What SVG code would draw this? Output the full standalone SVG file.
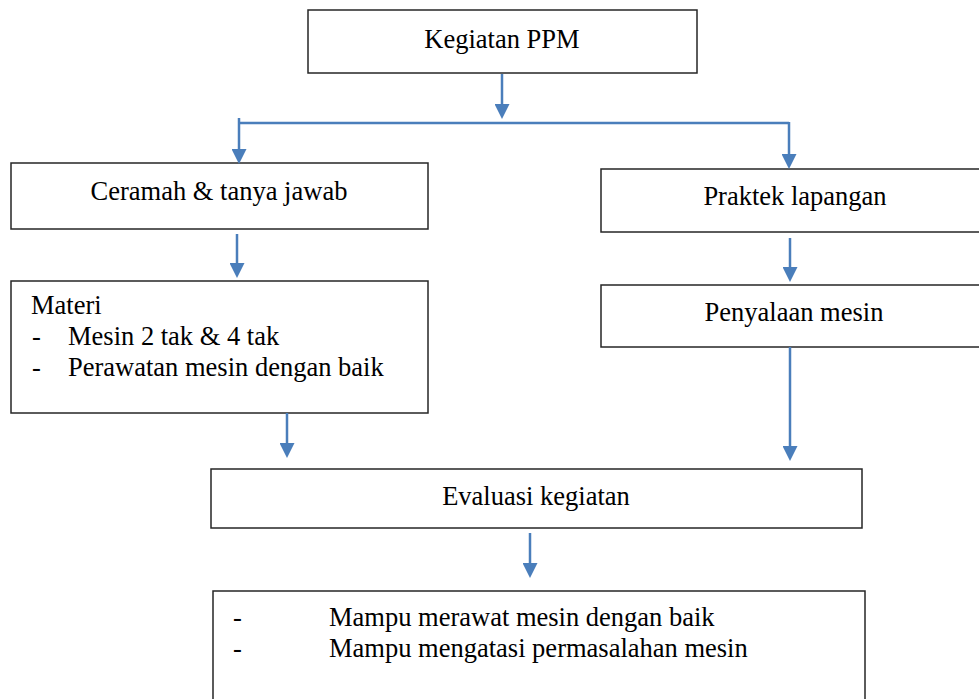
<svg xmlns="http://www.w3.org/2000/svg" width="979" height="699" viewBox="0 0 979 699">
<style>
.box{fill:#fff;stroke:#262626;stroke-width:1.5}
.t{font-family:"Liberation Serif","Times New Roman",serif;font-size:26.5px;fill:#000}
.c{text-anchor:middle}
.con{fill:none;stroke:#4A7EBB;stroke-width:2.5}
</style>
<defs>
<marker id="ah" markerUnits="userSpaceOnUse" markerWidth="15" markerHeight="15" refX="4" refY="7.5" orient="auto">
<path d="M0,0 L15,7.5 L0,15 z" fill="#4A7EBB"/>
</marker>
</defs>
<rect width="979" height="699" fill="#fff"/>
<g id="n-kegiatan"><rect class="box" x="308" y="10" width="389" height="63"/><text class="t c" x="502" y="48">Kegiatan PPM</text></g>
<g id="n-ceramah"><rect class="box" x="11" y="163" width="417" height="66"/><text class="t c" x="219" y="200">Ceramah &amp; tanya jawab</text></g>
<g id="n-praktek"><rect class="box" x="601" y="169" width="390" height="63"/><text class="t c" x="795" y="205">Praktek lapangan</text></g>
<g id="n-materi"><rect class="box" x="11" y="281" width="417" height="132"/>
<text class="t" x="31" y="314">Materi</text>
<text class="t" x="32" y="345">-</text><text class="t" x="68" y="345">Mesin 2 tak &amp; 4 tak</text>
<text class="t" x="32" y="376">-</text><text class="t" x="68" y="376">Perawatan mesin dengan baik</text></g>
<g id="n-penyalaan"><rect class="box" x="601" y="285" width="390" height="62"/><text class="t c" x="794" y="321">Penyalaan mesin</text></g>
<g id="n-evaluasi"><rect class="box" x="211" y="469" width="651" height="59"/><text class="t c" x="536" y="505">Evaluasi kegiatan</text></g>
<g id="n-hasil"><rect class="box" x="213" y="591" width="652" height="130"/>
<text class="t" x="233" y="626">-</text><text class="t" x="329" y="626">Mampu merawat mesin dengan baik</text>
<text class="t" x="233" y="657">-</text><text class="t" x="329" y="657">Mampu mengatasi permasalahan mesin</text></g>
<g id="connectors">
<line class="con" x1="502" y1="74" x2="502" y2="108" marker-end="url(#ah)"/>
<polyline class="con" points="239,123 789,123"/>
<line class="con" x1="239" y1="118" x2="239" y2="153" marker-end="url(#ah)"/>
<line class="con" x1="789" y1="122" x2="789" y2="158" marker-end="url(#ah)"/>
<line class="con" x1="237" y1="234" x2="237" y2="267" marker-end="url(#ah)"/>
<line class="con" x1="790" y1="238" x2="790" y2="271" marker-end="url(#ah)"/>
<line class="con" x1="287" y1="413" x2="287" y2="447" marker-end="url(#ah)"/>
<line class="con" x1="790" y1="347" x2="790" y2="450" marker-end="url(#ah)"/>
<line class="con" x1="530" y1="533" x2="530" y2="567" marker-end="url(#ah)"/>
</g>
</svg>
